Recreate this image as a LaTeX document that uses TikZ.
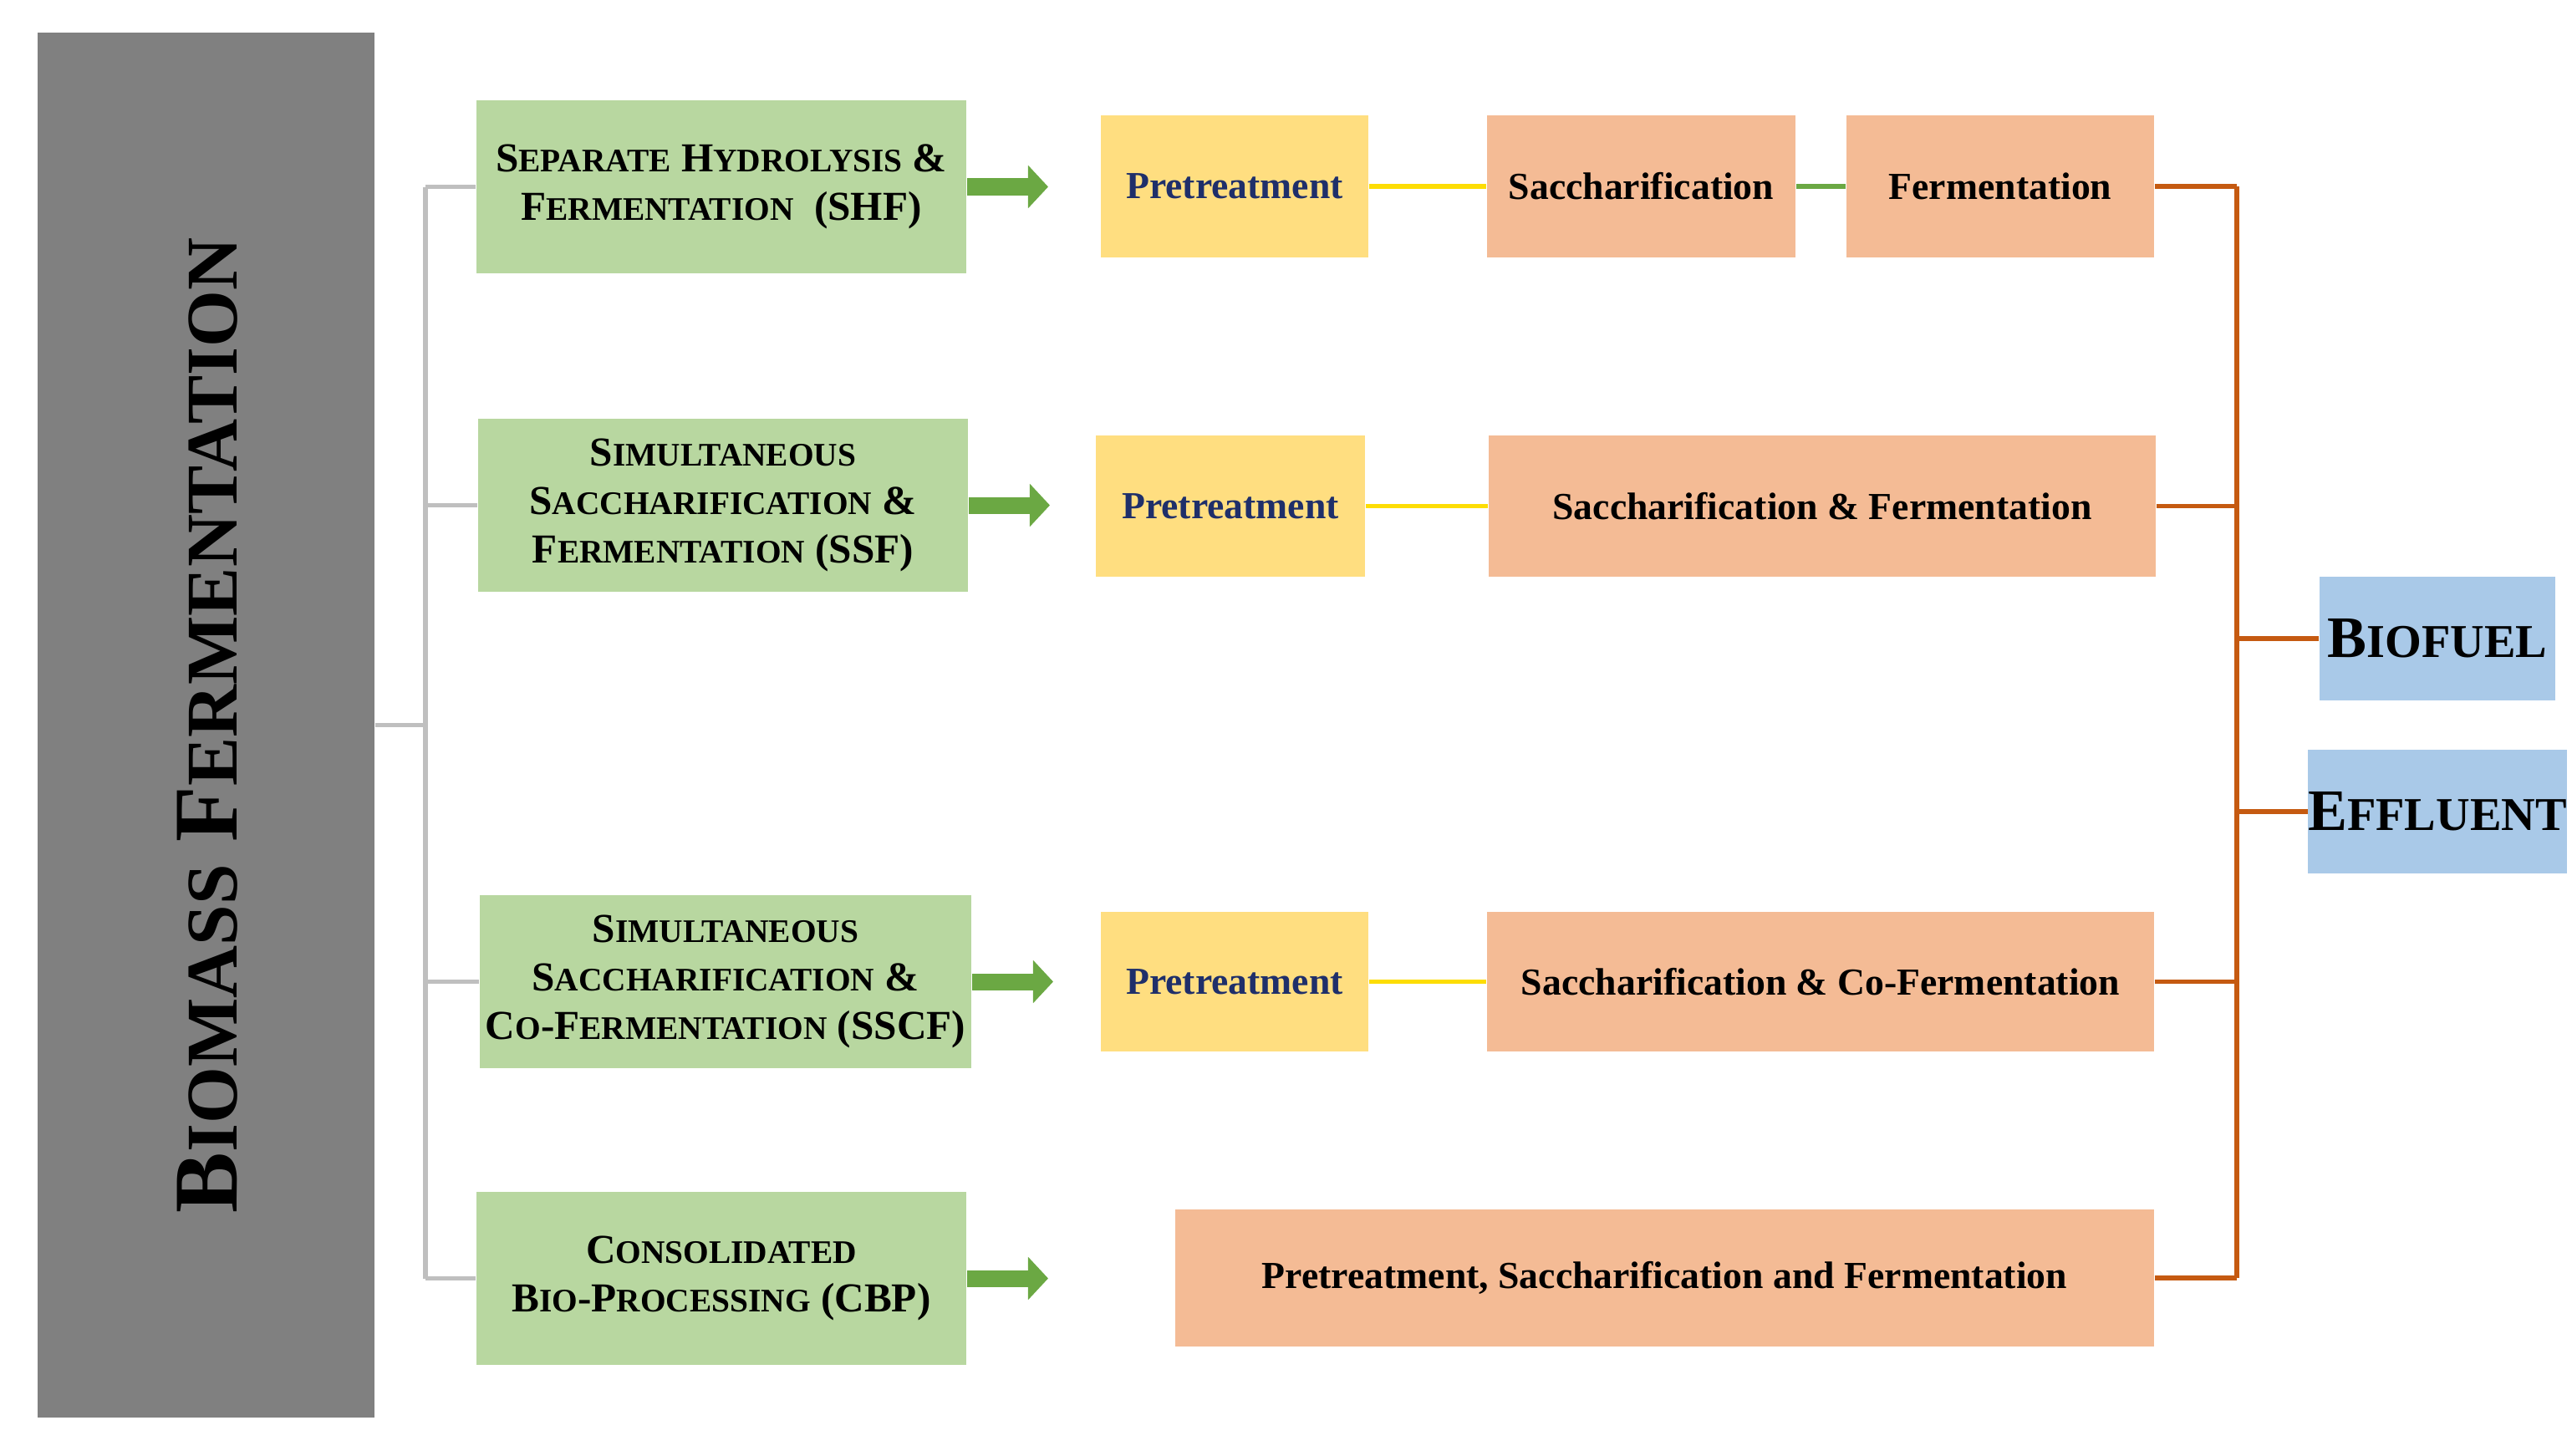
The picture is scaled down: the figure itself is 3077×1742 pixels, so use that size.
\documentclass[tikz,border=0pt]{standalone}
\usepackage{fontspec}
\setmainfont{Liberation Serif}
\usetikzlibrary{arrows.meta}
\newcommand\sm[1]{\scalebox{0.8}{#1}}
\definecolor{cgray}{HTML}{808080}
\definecolor{cgreen}{HTML}{B8D7A0}
\definecolor{cyel}{HTML}{FFDE80}
\definecolor{corg}{HTML}{F4BB95}
\definecolor{cblue}{HTML}{A9C9E8}
\definecolor{oline}{HTML}{C55A11}
\definecolor{gline}{HTML}{BFBFBF}
\definecolor{garrow}{HTML}{6BA843}
\definecolor{navy}{HTML}{1F2F6A}
\begin{document}
\begin{tikzpicture}[x=0.01cm,y=-0.01cm,
 box/.style={inner sep=0pt,align=center,font=\bfseries},
 grn/.style={box,fill=cgreen,font=\bfseries\fontsize{14}{16.5}\selectfont},
 yel/.style={box,fill=cyel,text=navy,font=\bfseries\fontsize{13}{15}\selectfont},
 org/.style={box,fill=corg,font=\bfseries\fontsize{13}{15}\selectfont},
 blu/.style={box,fill=cblue,font=\bfseries\fontsize{20}{22}\selectfont},
 gl/.style={gline,line width=1.6pt},
 ol/.style={oline,line width=1.6pt},
 ga/.style={garrow,line width=0.2cm,-{Triangle[length=0.24cm,width=0.5cm]}}]
\useasboundingbox (0,0) rectangle (3077,1742);
\node[box,fill=cgray,minimum width=4.03cm,minimum height=16.57cm] (bm) at (246.5,867.5) {};
\node[rotate=90,font=\bfseries\fontsize{31}{31}\selectfont] (bmt) at (248,868) {B\sm{IOMASS} F\sm{ERMENTATION}};
\node[grn,minimum width=5.86cm,minimum height=2.07cm] (shf) at (863,223.5) {S\sm{EPARATE} H\sm{YDROLYSIS} \&\\F\sm{ERMENTATION}\ \ (SHF)};
\node[grn,minimum width=5.86cm,minimum height=2.07cm] (ssf) at (865,604.5) {S\sm{IMULTANEOUS}\\S\sm{ACCHARIFICATION} \&\\F\sm{ERMENTATION} (SSF)};
\node[grn,minimum width=5.88cm,minimum height=2.07cm] (sscf) at (868,1174.5) {S\sm{IMULTANEOUS}\\S\sm{ACCHARIFICATION} \&\\C\sm{O}-F\sm{ERMENTATION} (SSCF)};
\node[grn,minimum width=5.86cm,minimum height=2.07cm] (cbp) at (863,1529.5) {C\sm{ONSOLIDATED}\\B\sm{IO}-P\sm{ROCESSING} (CBP)};
\node[yel,minimum width=3.2cm,minimum height=1.7cm] (y1) at (1477,223) {Pretreatment};
\node[yel,minimum width=3.22cm,minimum height=1.69cm] (y2) at (1472,605.5) {Pretreatment};
\node[yel,minimum width=3.2cm,minimum height=1.67cm] (y3) at (1477,1174.5) {Pretreatment};
\node[org,minimum width=3.69cm,minimum height=1.7cm] (s1) at (1963.5,223) {Saccharification};
\node[org,minimum width=3.68cm,minimum height=1.7cm] (f1) at (2393,223) {Fermentation};
\node[org,minimum width=7.98cm,minimum height=1.69cm] (o2) at (2180,605.5) {Saccharification \& Fermentation};
\node[org,minimum width=7.98cm,minimum height=1.67cm] (o3) at (2178,1174.5) {Saccharification \& Co-Fermentation};
\node[org,minimum width=11.71cm,minimum height=1.64cm] (o4) at (1991.5,1529) {Pretreatment, Saccharification and Fermentation};
\node[blu,minimum width=2.82cm,minimum height=1.48cm] (bio) at (2916,764) {B\sm{IOFUEL}};
\node[blu,minimum width=2.82cm,minimum height=1.48cm] (eff) at (2916,971) {E\sm{FFLUENT}};
% gray tree
\coordinate (gt) at (509,867.5);
\coordinate (gtop) at (509,223.5);
\coordinate (gbot) at (509,1529.5);
\draw[gl] (bm.east |- gt) -- (gt);
\draw[gl] (gtop) -- (gbot);
\foreach \n in {shf,ssf,sscf,cbp} \draw[gl] (\n.west -| gt) -- (\n.west);
% green arrows
\foreach \n/\e in {shf/1254,ssf/1256,sscf/1260,cbp/1254}{
 \coordinate (a\n) at (\e,0);
 \draw[ga] (\n.east) -- (\n.east -| a\n);}
% row links
\draw[draw=yellow!80!orange,line width=1.6pt] (y1) -- (s1);
\draw[draw=yellow!80!orange,line width=1.6pt] (y2) -- (o2);
\draw[draw=yellow!80!orange,line width=1.6pt] (y3) -- (o3);
\draw[draw=garrow,line width=1.6pt] (s1) -- (f1);
% orange tree
\coordinate (ot) at (2676,223);
\coordinate (ob) at (2676,1529);
\draw[ol] (ot) -- (ob);
\foreach \n in {f1,o2,o3,o4} \draw[ol] (\n.east) -- (\n.east -| ot);
\foreach \n in {bio,eff} \draw[ol] (\n.west -| ot) -- (\n.west);
\end{tikzpicture}
\end{document}
